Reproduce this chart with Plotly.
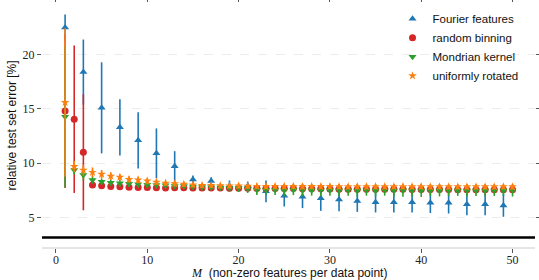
import plotly.graph_objects as go

# ---- data ----
M_all = list(range(1, 51))
M_odd = list(range(1, 50, 2))

fourier_mean = [22.5, 18.4, 15.1, 13.3, 12.1, 10.9, 9.7, 8.5, 8.35, 7.9, 7.9, 7.4, 7.0,
                6.9, 6.75, 6.65, 6.5, 6.4, 6.4, 6.4, 6.35, 6.35, 6.2, 6.2, 6.1]
fourier_err = [1.2, 3.0, 4.2, 2.6, 2.6, 2.3, 1.4, 0.35, 0.35, 0.5, 0.4, 1.0, 1.0,
               1.05, 1.15, 1.1, 1.0, 0.95, 0.95, 0.95, 0.95, 1.0, 1.0, 1.0, 1.05]

binning_mean = [14.8, 14.05, 11.0, 7.98, 7.92, 7.85, 7.83, 7.78, 7.75, 7.75,
                7.72, 7.7, 7.72, 7.72, 7.7, 7.7, 7.7, 7.7, 7.68, 7.68,
                7.68, 7.66, 7.66, 7.66, 7.65, 7.65, 7.64, 7.64, 7.63, 7.62,
                7.6, 7.6, 7.6, 7.6, 7.58, 7.58, 7.58, 7.58, 7.57, 7.57,
                7.56, 7.56, 7.56, 7.55, 7.55, 7.55, 7.55, 7.55, 7.55, 7.55]
binning_err = [7.1, 6.8, 5.35, 0.2, 0.18, 0.15, 0.15, 0.15, 0.15, 0.15,
               0.15, 0.15, 0.15, 0.15, 0.15, 0.15, 0.15, 0.15, 0.15, 0.15,
               0.15, 0.15, 0.15, 0.15, 0.15, 0.15, 0.15, 0.15, 0.15, 0.15,
               0.15, 0.15, 0.15, 0.15, 0.15, 0.15, 0.15, 0.15, 0.15, 0.15,
               0.15, 0.15, 0.15, 0.15, 0.15, 0.15, 0.15, 0.15, 0.15, 0.15]

mondrian_mean = [14.28, 9.36, 8.9, 8.44, 8.28, 8.2, 8.15, 8.1, 8.05, 8.0,
                 7.98, 7.95, 7.9, 7.88, 7.85, 7.8, 7.78, 7.75, 7.72, 7.7,
                 7.65, 7.55, 7.55, 7.55, 7.5, 7.55, 7.5, 7.5, 7.5, 7.5,
                 7.5, 7.5, 7.48, 7.5, 7.48, 7.5, 7.48, 7.5, 7.48, 7.48,
                 7.48, 7.48, 7.47, 7.48, 7.47, 7.47, 7.47, 7.47, 7.47, 7.47]
mondrian_err = [6.5, 0.4, 0.5, 0.35, 0.3, 0.3, 0.3, 0.3, 0.3, 0.3,
                0.3, 0.3, 0.3, 0.3, 0.3, 0.3, 0.3, 0.3, 0.35, 0.35,
                0.4, 0.5, 0.5, 0.5, 0.55, 0.5, 0.55, 0.5, 0.55, 0.5,
                0.55, 0.5, 0.6, 0.5, 0.55, 0.5, 0.6, 0.6, 0.55, 0.6,
                0.5, 0.55, 0.5, 0.5, 0.55, 0.5, 0.55, 0.5, 0.5, 0.55]

rotated_mean = [15.6, 9.7, 9.35, 9.15, 8.97, 8.8, 8.7, 8.5, 8.45, 8.35,
                8.25, 8.15, 8.1, 8.05, 8.0, 7.95, 7.95, 7.92, 7.9, 7.9,
                7.88, 7.86, 7.85, 7.85, 7.85, 7.85, 7.84, 7.84, 7.84, 7.84,
                7.83, 7.83, 7.83, 7.83, 7.83, 7.83, 7.83, 7.83, 7.83, 7.83,
                7.82, 7.82, 7.82, 7.82, 7.82, 7.82, 7.82, 7.82, 7.82, 7.82]
rotated_err = [6.85, 0.5, 0.5, 0.45, 0.4, 0.35, 0.3, 0.3, 0.3, 0.3,
               0.25, 0.25, 0.25, 0.25, 0.25, 0.25, 0.25, 0.25, 0.25, 0.25,
               0.25, 0.25, 0.25, 0.25, 0.25, 0.25, 0.25, 0.25, 0.25, 0.25,
               0.25, 0.25, 0.25, 0.25, 0.25, 0.25, 0.25, 0.25, 0.25, 0.25,
               0.25, 0.25, 0.25, 0.25, 0.25, 0.25, 0.25, 0.25, 0.25, 0.25]

baseline_error = 3.15

x_ticks = [0, 10, 20, 30, 40, 50]
y_ticks = [5, 10, 15, 20]

series = [
    ("Fourier features", M_odd, fourier_mean, fourier_err, "#1f77b4", "triangle-up", 7),
    ("random binning", M_all, binning_mean, binning_err, "#d62728", "circle", 7),
    ("Mondrian kernel", M_all, mondrian_mean, mondrian_err, "#2ca02c", "triangle-down", 7),
    ("uniformly rotated", M_all, rotated_mean, rotated_err, "#ff7f0e", "star", 6.5),
]

fig = go.Figure()
for name, xs, ys, es, color, sym, size in series:
    fig.add_trace(go.Scatter(
        x=xs, y=ys, mode="markers", name=name,
        marker=dict(symbol=sym, color=color, size=size, line=dict(width=0)),
        error_y=dict(type="data", array=es, visible=True, color=color,
                     thickness=1.6, width=0),
    ))

fig.add_shape(type="line", xref="paper", yref="y", x0=0, x1=1,
              y0=baseline_error, y1=baseline_error,
              line=dict(color="black", width=2.5))
fig.add_shape(type="line", xref="paper", yref="paper", x0=0, x1=1, y0=0, y1=0,
              line=dict(color="#cccccc", width=1))

fig.add_annotation(
    text="<span style='font-family:Liberation Serif'><i>M</i></span>  (non-zero features per data point)",
    xref="paper", yref="paper", x=0.5, y=-0.104, xanchor="center", yanchor="middle",
    showarrow=False, font=dict(family="Liberation Sans", size=12, color="#111111"))
fig.add_annotation(
    text="relative test set error [%]", textangle=-90,
    xref="paper", yref="paper", x=-0.0609, y=0.5, xanchor="center", yanchor="middle",
    showarrow=False, font=dict(family="Liberation Sans", size=12, color="#111111"))

tickfont = dict(family="Liberation Serif", size=12, color="#222222")
fig.update_layout(
    width=539, height=280,
    margin=dict(l=42, r=4, t=3, b=32),
    plot_bgcolor="white", paper_bgcolor="white",
    font=dict(family="Liberation Sans", size=12, color="#111111"),
    showlegend=True,
    legend=dict(x=0.711, y=0.995, xanchor="left", yanchor="top",
                bgcolor="rgba(0,0,0,0)", font=dict(size=11.5),
                itemwidth=30, tracegroupgap=0),
    xaxis=dict(range=[-1.53, 52.46], tickvals=x_ticks, ticks="outside", ticklen=4,
               tickcolor="#555555", showgrid=False, zeroline=False, showline=False,
               mirror="ticks", tickfont=tickfont, automargin=False,
               ticklabelstandoff=-3),
    yaxis=dict(range=[2.17, 24.77], tickvals=y_ticks, ticks="outside", ticklen=4,
               tickcolor="#555555", showgrid=True, gridcolor="#ececec", griddash="dash",
               gridwidth=1, zeroline=False, showline=False, mirror="ticks",
               tickfont=tickfont, automargin=False),
)

fig.write_html("out.html", config={"displayModeBar": False},
               post_script="document.body.style.margin='0';")
